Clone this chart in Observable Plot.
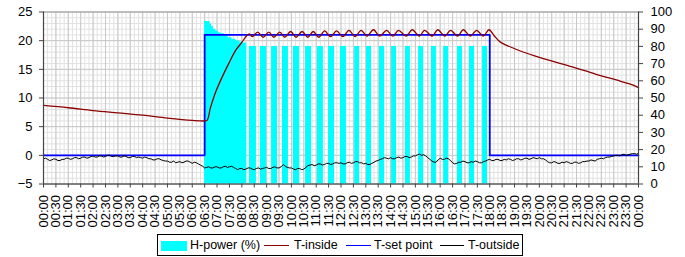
<!DOCTYPE html>
<html><head><meta charset="utf-8">
<script src="https://cdn.jsdelivr.net/npm/d3@7"></script>
<script src="https://cdn.jsdelivr.net/npm/@observablehq/plot@0.6"></script>
<style>
body{margin:0;background:#fff;font-family:"Liberation Sans",Arial,sans-serif;}
#wrap{position:relative;width:685px;height:257px;overflow:hidden;}
#legend{position:absolute;left:157px;top:234px;width:364px;height:20px;border:1px solid #000;background:#fff;font-size:12.5px;color:#000;}
#legend .it{position:absolute;top:0;height:20px;line-height:20px;white-space:nowrap;}
#legend .ln{position:absolute;height:1px;top:10px;}
#legend .sw{position:absolute;top:6px;height:10px;background:#00ffff;}
</style></head><body>
<div id="wrap"><div id="chart"></div>
<div id="legend">
  <div class="sw" style="left:3px;width:26px"></div><div class="it" style="left:32px">H-power (%)</div>
  <div class="ln" style="left:106px;width:25px;background:#8b0000"></div><div class="it" style="left:136px">T-inside</div>
  <div class="ln" style="left:188px;width:25px;background:#0000ff"></div><div class="it" style="left:216px">T-set point</div>
  <div class="ln" style="left:282px;width:24px;background:#000"></div><div class="it" style="left:310px">T-outside</div>
</div></div>
<script>
// ---- data (time in hours of day) ----
// H-power (%) continuous block after switch-on
const blockT = [6.5, 6.67, 6.72, 6.78, 6.85, 6.95, 7.05, 7.15, 7.3, 7.45, 7.6, 7.75, 7.9, 8.05];
const blockV = [94.5, 94.5, 93, 91.5, 90, 89, 88, 87.3, 86.2, 85, 84.2, 83.3, 82.5, 82];
const blockEnd = 8.2;
// H-power pulses (80 %)
const pulseStart = [8.31, 8.75, 9.2, 9.64, 10.08, 10.57, 11.05, 11.5, 11.98, 12.55, 13.03, 13.55, 14.04, 14.6, 15.13, 15.65, 16.14, 16.7, 17.18, 17.71];
const pulseEnd   = [8.59, 9.0, 9.44, 9.88, 10.33, 10.81, 11.29, 11.74, 12.22, 12.75, 13.23, 13.76, 14.24, 14.8, 15.33, 15.85, 16.34, 16.9, 17.39, 17.91];
const pulseLevel = 80;

// T-set point
const setT = [0, 6.5, 18, 24];
const setV = [0, 21, 0, 0];

// T-inside
const inT = [0, 1, 2, 3, 4, 5, 6, 6.5, 6.6, 6.74, 6.94, 7.2, 7.47, 7.75, 8.0, 8.2, 8.3, 8.42,
  8.64, 8.86, 9.09, 9.29, 9.53, 9.73, 9.97, 10.19, 10.43, 10.66, 10.88, 11.1, 11.34, 11.58, 11.82, 12.08,
  12.32, 12.57, 12.81, 13.05, 13.31, 13.56, 13.84, 14.09, 14.32, 14.63, 14.87, 15.16, 15.37, 15.68, 15.9, 16.19,
  16.42, 16.71, 16.93, 17.22, 17.47, 17.74, 17.97,
  18.17, 18.44, 18.84, 19.24, 19.78, 20.45, 21.12, 21.8, 22.47, 23.14, 23.81, 24];
const inV = [8.7, 8.3, 7.8, 7.4, 7.0, 6.5, 6.1, 6.0, 6.1, 8.4, 11.0, 13.6, 16.0, 18.3, 19.7, 20.9, 21.2, 20.7,
  21.5, 20.6, 21.5, 20.6, 21.5, 20.6, 21.6, 20.6, 21.6, 20.6, 21.6, 20.6, 21.7, 20.7, 21.7, 20.7,
  21.8, 20.7, 21.8, 20.8, 21.9, 20.8, 21.8, 20.8, 21.8, 20.8, 21.9, 20.8, 21.8, 20.8, 21.9, 20.8,
  21.8, 20.8, 21.9, 20.8, 21.8, 20.8, 21.9,
  20.9, 19.7, 18.9, 18.2, 17.4, 16.5, 15.7, 14.8, 13.9, 13.1, 12.2, 11.8];

// T-outside, one reading every 5 minutes from 00:00 to 24:00 (one row per hour)
const outStepMin = 5;
const outV = [
 -0.6,-0.5,-0.7,-0.9,-0.8,-0.6,-0.7,-0.9,-0.9,-0.7,-0.7,-0.5,
 -0.5,-0.7,-0.6,-0.4,-0.4,-0.6,-0.5,-0.3,-0.3,-0.5,-0.4,-0.2,
 -0.1,-0.3,-0.3,-0.1,-0.1,-0.3,-0.2, 0.0, 0.0,-0.2,-0.2,-0.1,
 -0.1,-0.3,-0.3,-0.1,-0.2,-0.4,-0.4,-0.2,-0.2,-0.4,-0.3,-0.4,
 -0.5,-0.3,-0.4,-0.6,-0.6,-0.8,-0.8,-0.6,-0.6,-0.8,-0.9,-1.0,
 -1.0,-1.2,-1.2,-1.0,-1.3,-1.2,-1.1,-1.3,-1.2,-1.0,-1.0,-1.2,
 -1.4,-1.2,-1.3,-1.5,-1.7,-1.9,-2.2,-2.1,-2.0,-2.2,-2.2,-2.0,
 -2.0,-2.2,-2.2,-2.0,-1.9,-2.1,-2.0,-1.9,-2.1,-2.3,-2.5,-2.3,
 -2.3,-2.5,-2.4,-2.2,-2.2,-2.4,-2.5,-2.3,-2.2,-2.4,-2.3,-2.2,
 -2.1,-2.3,-2.3,-2.1,-2.0,-2.2,-2.2,-2.0,-1.6,-1.9,-2.1,-2.2,
 -2.2,-2.4,-2.5,-2.3,-2.3,-2.5,-2.4,-2.1,-1.8,-1.7,-1.6,-1.8,
 -1.7,-1.5,-1.5,-1.7,-1.6,-1.4,-1.4,-1.6,-1.5,-1.3,-1.3,-1.4,
 -1.3,-1.5,-1.5,-1.3,-1.2,-1.4,-1.3,-1.1,-1.1,-1.3,-1.3,-1.5,
 -1.4,-1.6,-1.6,-1.4,-1.2,-1.0,-0.9,-0.7,-0.6,-0.4,-0.5,-0.6,
 -0.4,-0.6,-0.6,-0.4,-0.3,-0.5,-0.4,-0.2,-0.2,-0.4,-0.3,-0.1,
 -0.1, 0.1, 0.2, 0.0, 0.1,-0.1,-0.4,-0.7,-1.0,-1.2,-1.2,-0.8,
 -0.5,-0.7,-0.7,-0.5,-0.6,-0.9,-1.3,-1.5,-1.4,-1.2,-1.2,-1.0,
 -1.1,-1.3,-1.3,-1.1,-1.2,-1.0,-1.1,-1.3,-1.3,-1.1,-1.0,-0.8,
 -0.7,-0.9,-0.9,-0.7,-0.7,-0.9,-0.9,-0.7,-0.8,-0.6,-0.7,-0.9,
 -0.8,-0.6,-0.6,-0.8,-0.7,-0.5,-0.5,-0.7,-0.6,-0.4,-0.5,-0.6,
 -0.4,-0.6,-0.6,-0.8,-1.1,-1.3,-1.3,-1.1,-1.2,-1.4,-1.4,-1.2,
 -1.3,-1.1,-1.2,-1.4,-1.4,-1.2,-1.2,-1.4,-1.3,-1.1,-1.1,-1.0,
 -1.0,-0.8,-0.9,-1.0,-0.7,-0.6,-0.5,-0.6,-0.4,-0.3,-0.3,-0.2,
 -0.1, 0.0, 0.0,-0.1, 0.1, 0.2, 0.0, 0.1, 0.2, 0.3, 0.3, 0.2,
  0.35];

// axes
const leftTicks = [-5, 0, 5, 10, 15, 20, 25];
const rightTicks = [0, 10, 20, 30, 40, 50, 60, 70, 80, 90, 100];
const xTickStep = 0.5;

// ---- build tables ----
const toLeft = p => -5 + p * 0.3;   // right axis (0..100 %) onto left axis (-5..25)
const power = [{t: 0, p: 0}];
blockT.forEach((t, i) => power.push({t, p: blockV[i]}));
power.push({t: blockEnd, p: 0});
pulseStart.forEach((s, i) => { power.push({t: s, p: pulseLevel}); power.push({t: pulseEnd[i], p: 0}); });
power.push({t: 24, p: 0});
const setRows = setT.map((t, i) => ({t, v: setV[i]}));
const inRows = inT.map((t, i) => ({t, v: inV[i]}));
const outRows = outV.map((v, i) => ({t: i * outStepMin / 60, v}));

const pad = n => String(n).padStart(2, "0");
const fmt = h => { const tot = Math.round(h * 60); return pad(Math.floor(tot / 60) % 24) + ":" + pad(tot % 60); };
const xTicks = d3.range(0, 24 + 1e-9, xTickStep);
const minorX = d3.range(0, 24 + 1e-9, 1 / 6);
const minorY = d3.range(-5, 25.001, 1);

const chart = Plot.plot({
  width: 685, height: 228,
  marginLeft: 43, marginRight: 47, marginTop: 11.5, marginBottom: 44.5,
  style: {fontFamily: '"Liberation Sans", Arial, sans-serif', fontSize: "13px", color: "#000", background: "#fff"},
  x: {domain: [0, 24]},
  y: {domain: [-5, 25]},
  marks: [
    Plot.ruleX(minorX, {stroke: "#e2e2e2", strokeWidth: 1}),
    Plot.ruleY(minorY, {stroke: "#e2e2e2", strokeWidth: 1}),
    Plot.ruleX(xTicks, {stroke: "#c8c8c8", strokeWidth: 1}),
    Plot.ruleY(leftTicks, {stroke: "#c8c8c8", strokeWidth: 1}),
    Plot.frame({stroke: "#a0a0a0"}),
    Plot.areaY(power, {x: "t", y1: () => -5, y2: d => toLeft(d.p), curve: "step-after", fill: "#00ffff"}),
    Plot.line(setRows, {x: "t", y: "v", curve: "step-after", stroke: "#0000ff", strokeWidth: 1.8}),
    Plot.line(outRows, {x: "t", y: "v", stroke: "#000", strokeWidth: 1}),
    Plot.line(inRows, {x: "t", y: "v", curve: "catmull-rom", stroke: "#8b0000", strokeWidth: 1.3}),
    Plot.ruleX([0, 24], {stroke: "#444", strokeWidth: 1.2}),
    Plot.ruleY([-5], {stroke: "#444", strokeWidth: 1.2}),
    Plot.axisY(leftTicks, {anchor: "left", tickSize: 4, tickPadding: 7, label: null, stroke: "#444"}),
    Plot.axisY(rightTicks.map(toLeft), {anchor: "right", tickSize: 4, tickPadding: 8, label: null, stroke: "#444",
      tickFormat: d => String(Math.round((d + 5) / 0.3))}),
    Plot.axisX(xTicks, {anchor: "bottom", tickSize: 4, tickPadding: 7, tickRotate: -90, label: null, stroke: "#444", tickFormat: fmt})
  ]
});
document.getElementById("chart").appendChild(chart);
</script>
</body></html>
